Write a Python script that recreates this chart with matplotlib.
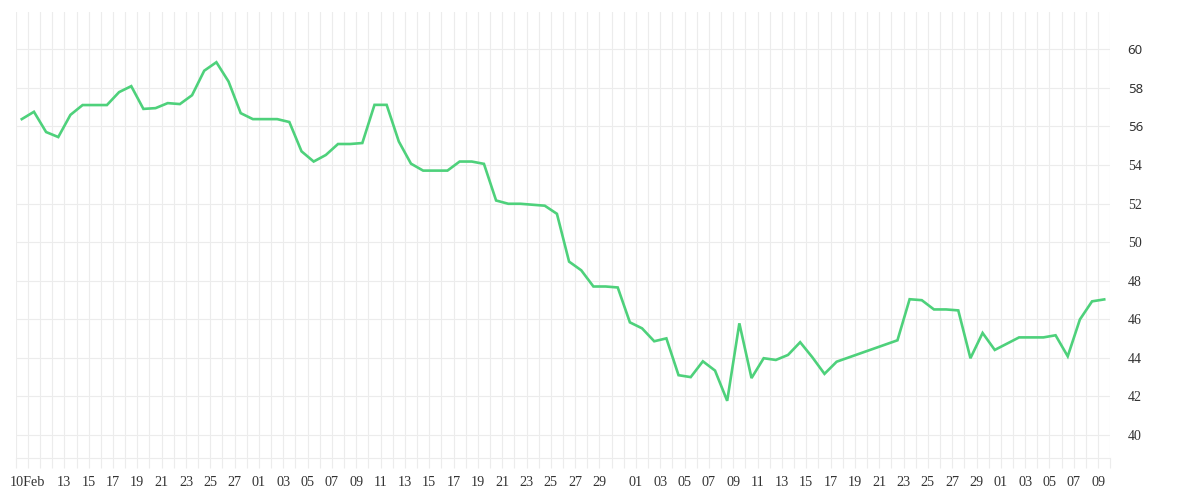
import numpy as np
import matplotlib
matplotlib.use("Agg")
import matplotlib.pyplot as plt
import matplotlib.dates as mdates
from matplotlib.ticker import FixedLocator, NullFormatter

# ---- data (daily values, a few days missing) ----
dates = (
    ["2023-02-%02d" % d for d in range(9, 29)]
    + ["2023-03-%02d" % d for d in range(1, 32)]
    + ["2023-04-%02d" % d for d in range(1, 18)]
    + ["2023-04-%02d" % d for d in range(22, 31)]
    + ["2023-05-%02d" % d for d in (2, 3, 4, 5, 6, 7, 8, 9)]
)
values = [
    56.38, 56.76, 55.71, 55.45, 56.60, 57.11, 57.11, 57.11, 57.78, 58.09,
    56.91, 56.95, 57.21, 57.16, 57.62, 58.89, 59.33, 58.33, 56.69, 56.38,
    56.38, 56.38, 56.23, 54.71, 54.18, 54.52, 55.09, 55.09, 55.14, 57.12,
    57.12, 55.22, 54.07, 53.71, 53.71, 53.71, 54.18, 54.18, 54.06, 52.16,
    51.99, 51.99, 51.94, 51.89, 51.47, 48.99, 48.54, 47.70, 47.70, 47.65,
    45.84, 45.53, 44.86, 45.01, 43.10, 43.00, 43.82, 43.34, 41.77, 45.79,
    42.95, 43.98, 43.89, 44.15, 44.81, 44.03, 43.17, 43.80,
    44.91, 47.04, 46.99, 46.51, 46.51, 46.46, 43.98, 45.29, 44.41,
    45.06, 45.06, 45.06, 45.17, 44.08, 45.99, 46.93, 47.03,
]

# ---- x tick labels ----
tick_dates = (
    ["2023-02-10"] + ["2023-02-%02d" % d for d in range(13, 28, 2)]
    + ["2023-03-%02d" % d for d in range(1, 30, 2)]
    + ["2023-04-%02d" % d for d in range(1, 30, 2)]
    + ["2023-05-%02d" % d for d in range(1, 10, 2)]
)
tick_labels = ["10Feb"] + [d[-2:] for d in tick_dates[1:]]

y_ticks = [40, 42, 44, 46, 48, 50, 52, 54, 56, 58, 60]

x_start, x_end = "2023-02-09", "2023-05-10"
y_min, y_max = 38.79, 61.92

# ---- styling ----
line_color = "#4ed17b"
grid_color = "#ececec"
text_color = "#333333"
serif_font = ["Liberation Serif", "DejaVu Serif"]
sans_font = ["Noto Sans", "DejaVu Sans"]

fig = plt.figure(figsize=(12, 5), dpi=100)
ax = fig.add_axes([15.7 / 1200, 41.7 / 500, (1110.3 - 15.7) / 1200, (458.3 - 12.3) / 500])

d_num = mdates.date2num(np.array(dates, dtype="datetime64[D]"))
# points sit at the centre of each day band
ax.plot(d_num + 0.5, values, color=line_color, lw=1.9, solid_joinstyle="miter", zorder=3)

x0 = mdates.date2num(np.datetime64(x_start))
x1 = mdates.date2num(np.datetime64(x_end))
ax.set_xlim(x0, x1)
ax.set_ylim(y_min, y_max)

# daily grid (minor) + labeled ticks (major)
ax.xaxis.set_minor_locator(FixedLocator(np.arange(x0, x1 + 0.5, 1.0)))
ax.xaxis.set_minor_formatter(NullFormatter())
t_num = mdates.date2num(np.array(tick_dates, dtype="datetime64[D]"))
ax.set_xticks(t_num)
ax.set_xticklabels(tick_labels)
ax.tick_params(axis="x", which="both", length=7.2, width=0.8, color=grid_color,
               pad=5.5, labelsize=10.2, labelcolor=text_color)
ax.grid(axis="x", which="both", color=grid_color, lw=0.8, zorder=0)

ax.yaxis.tick_right()
ax.set_yticks(y_ticks)
ax.set_yticklabels([str(v) for v in y_ticks])
ax.tick_params(axis="y", length=0, pad=12.5, labelsize=10, labelcolor=text_color)
ax.grid(axis="y", which="major", color=grid_color, lw=0.8, zorder=0)

for lab in ax.get_xticklabels():
    lab.set_fontfamily(serif_font)
for lab in ax.get_yticklabels():
    if lab.get_text() in ("56", "58", "60"):
        lab.set_fontfamily(sans_font)
        lab.set_fontsize(9.5)
    else:
        lab.set_fontfamily(serif_font)
    lab.set_horizontalalignment("left")

for side in ("top", "left", "right"):
    ax.spines[side].set_visible(False)
ax.spines["bottom"].set_color(grid_color)
ax.spines["bottom"].set_linewidth(0.8)

fig.savefig("out.png", dpi=100, facecolor="white")
